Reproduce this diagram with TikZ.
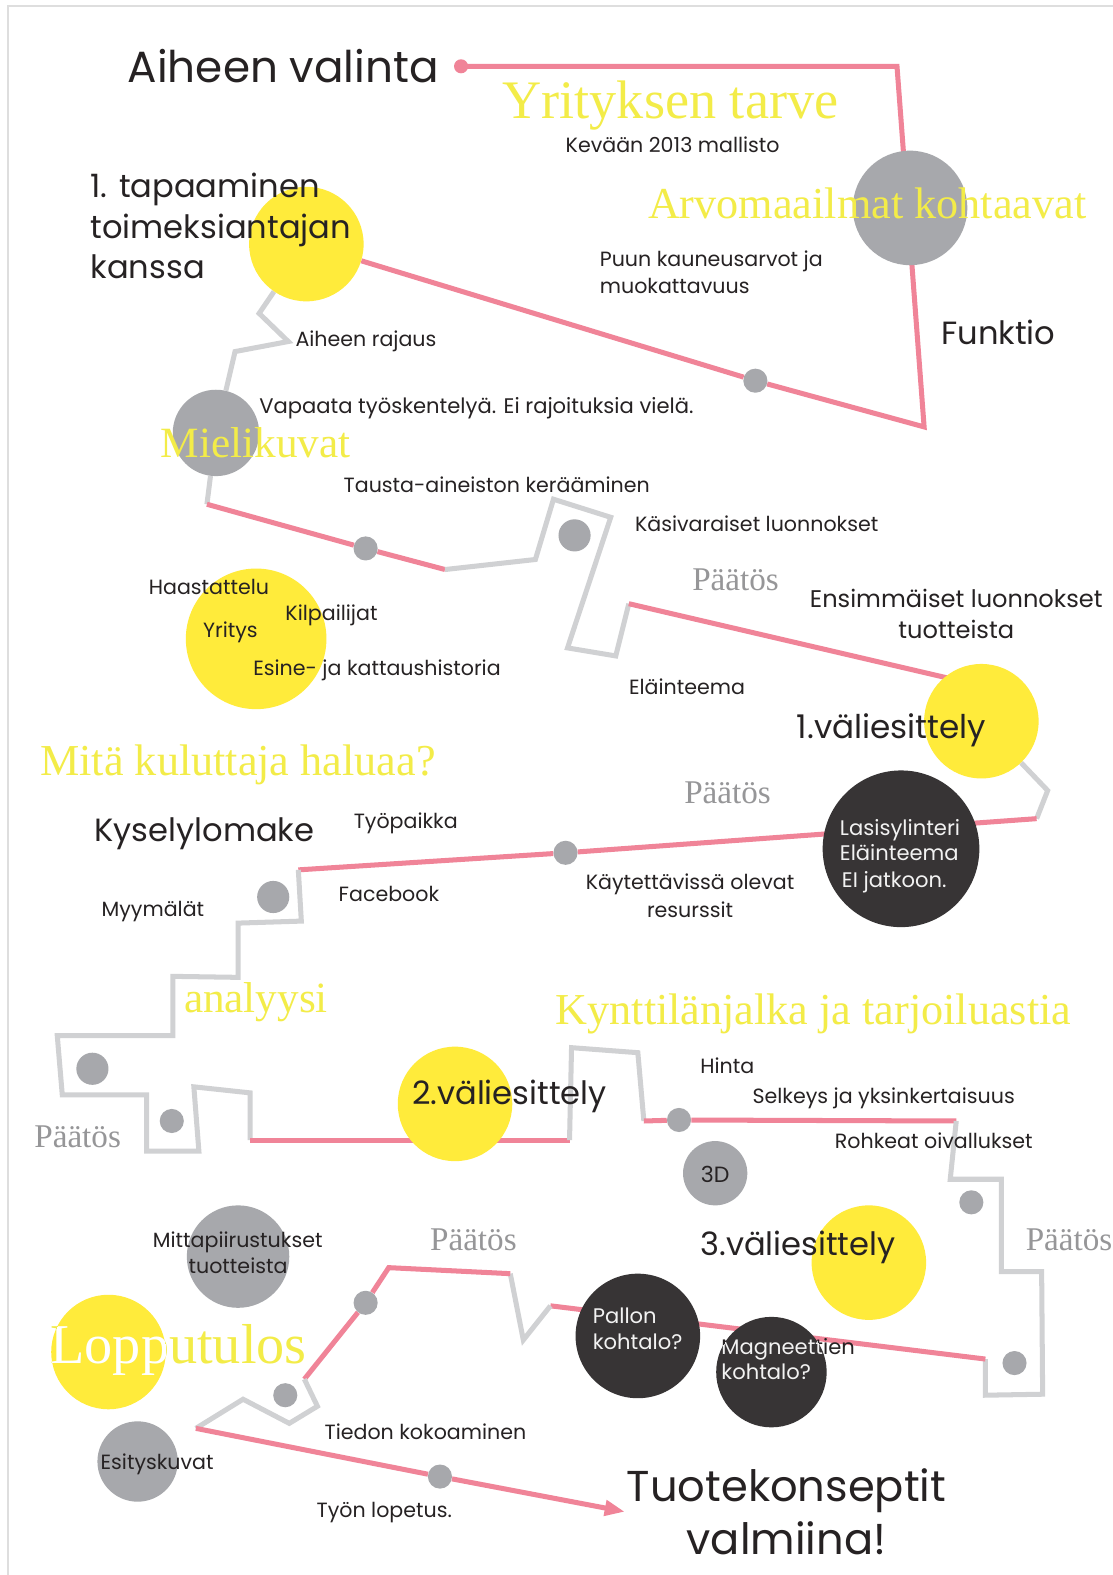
\documentclass[tikz,border=0pt]{standalone}
\usepackage{fontspec}
\setmainfont{Liberation Serif}
\newfontfamily\popf{Poppins}
\newfontfamily\serf{Liberation Serif}
\usetikzlibrary{arrows.meta}
\pgfdeclarelayer{bglayer}
\pgfsetlayers{bglayer,main}
\definecolor{pinkl}{RGB}{240,132,152}
\definecolor{yel}{RGB}{255,235,59}
\definecolor{yeltxt}{RGB}{243,236,72}
\definecolor{greyc}{RGB}{167,168,172}
\definecolor{greyl}{RGB}{208,209,211}
\definecolor{blk}{RGB}{55,52,53}
\definecolor{txt}{RGB}{38,34,35}
\definecolor{paatos}{RGB}{150,150,152}
\definecolor{framec}{RGB}{222,222,222}
\definecolor{wtxt}{RGB}{242,242,242}
\begin{document}
\begin{tikzpicture}[x=1pt,y=-1pt,
  pinkline/.style={draw=pinkl,line width=5pt},
  greyline/.style={draw=greyl,line width=5pt},
  disc/.style={circle,inner sep=0pt,minimum size=#1,draw=none},
  ycirc/.style={disc=#1,fill=yel},
  gcirc/.style={disc=#1,fill=greyc},
  bcirc/.style={disc=#1,fill=blk},
  dotg/.style={disc=#1,fill=greyc},
  lbl/.style={inner sep=0pt,anchor=base west,text=txt,font=\popf\fontsize{#1}{#1}\selectfont},
  clbl/.style={lbl=#1,anchor=base},
  wlbl/.style={lbl=#1,text=wtxt},
  hd/.style={inner sep=0pt,anchor=base west,text=yeltxt,font=\serf\fontsize{#1}{#1}\selectfont},
  pts/.style={hd=33,text=paatos}
]
\useasboundingbox (0,0) rectangle (1108,1568);

% ---------- circles ----------
\node[ycirc=114pt] (tap) at (305,243) {};
\node[gcirc=114pt] (arvo) at (906,207) {};
\node[gcirc=86pt] (miel) at (215,431) {};
\node[ycirc=140pt] (haas) at (255,636) {};
\node[ycirc=114pt] (val1) at (977,718) {};
\node[bcirc=156pt] (lasi) at (897,845) {};
\node[ycirc=114pt] (val2) at (453,1099) {};
\node[gcirc=64pt] (td) at (712,1168) {};
\node[ycirc=114pt] (val3) at (865,1257) {};
\node[gcirc=102pt] (mitta) at (237,1251) {};
\node[ycirc=114pt] (lopp) at (108,1346) {};
\node[bcirc=124pt] (pal) at (635,1330) {};
\node[bcirc=110pt] (mag) at (768,1366) {};
\node[gcirc=80pt] (esit) at (137,1455) {};

% ---------- small dots ----------
\node[disc=14pt,fill=pinkl] (start) at (459,66) {};
\node[dotg=24pt] (d1) at (752,379) {};
\node[dotg=24pt] (d2) at (364,546) {};
\node[dotg=32pt] (dloop) at (572,533) {};
\node[dotg=24pt] (d3) at (563,849) {};
\node[dotg=32pt] (dmyy) at (272,893) {};
\node[dotg=32pt] (d4) at (92,1064) {};
\node[dotg=24pt] (d5) at (171,1116) {};
\node[dotg=24pt] (d6) at (676,1115) {};
\node[dotg=24pt] (d7) at (967,1197) {};
\node[dotg=24pt] (d8) at (1010,1357) {};
\node[dotg=24pt] (d9) at (364,1297) {};
\node[dotg=24pt] (d10) at (284,1389) {};
\node[dotg=24pt] (d11) at (438,1470) {};

% ---------- path corners ----------
\coordinate (a1) at (893,66);
\coordinate (a2) at (920,425);
\coordinate (b1) at (258,312);
\coordinate (b2) at (287,340);
\coordinate (b3) at (234,350);
\coordinate (b5) at (206,502);
\coordinate (b6) at (443,567);
\coordinate (b7) at (533,557);
\coordinate (b8) at (551,497);
\coordinate (b9) at (608,515);
\coordinate (b10) at (565,645);
\coordinate (b11) at (613,653);
\coordinate (b12) at (626,601);
\coordinate (vend) at (965,680);
\coordinate (c1) at (1043,787);
\coordinate (c2) at (1032,815);
\coordinate (c3) at (297,866);
\coordinate (c4) at (300,917);
\coordinate (c5) at (237,919);
\coordinate (c6) at (237,973);
\coordinate (c7) at (172,972);
\coordinate (c8) at (172,1031);
\coordinate (c9) at (57,1031);
\coordinate (c10) at (62,1090);
\coordinate (c11) at (146,1090);
\coordinate (c12) at (146,1146);
\coordinate (c13) at (198,1146);
\coordinate (c14) at (193,1082);
\coordinate (c15) at (249,1088);
\coordinate (c16) at (249,1135);
\coordinate (c17) at (567,1135);
\coordinate (c18) at (569,1043);
\coordinate (c19) at (635,1048);
\coordinate (c20) at (641,1116);
\coordinate (c21) at (952,1116);
\coordinate (c22) at (946,1174);
\coordinate (c23) at (997,1174);
\coordinate (c24) at (997,1266);
\coordinate (c25) at (1037,1266);
\coordinate (c26) at (1038,1388);
\coordinate (c27) at (981,1389);
\coordinate (c28) at (981,1353);
\coordinate (c29) at (548,1300);
\coordinate (c30) at (521,1334);
\coordinate (c31) at (508,1268);
\coordinate (c32) at (387,1262);
\coordinate (c33) at (303,1373);
\coordinate (c34) at (316,1400);
\coordinate (c35) at (288,1417);
\coordinate (c36) at (242,1393);
\coordinate (c37) at (195,1422);
\coordinate (arrowend) at (622,1505);

% ---------- background and connectors (behind) ----------
\begin{pgfonlayer}{bglayer}
\fill[white] (0,0) rectangle (1108,1568);
\draw[framec,line width=1.5pt] (8,1568) -- (8,6) -- (1108,6);
\draw[pinkline] (start.center) -- (a1) -- (a2) -- (d1) -- (tap);
\draw[greyline] (tap) -- (b1) -- (b2) -- (b3) -- (miel);
\draw[greyline] (miel) -- (b5);
\draw[pinkline] (b5) -- (d2) -- (b6);
\draw[greyline] (b6) -- (b7) -- (b8) -- (b9) -- (b10) -- (b11) -- (b12);
\draw[pinkline] (b12) -- (vend);
\draw[greyline] (val1) -- (c1) -- (c2);
\draw[pinkline] (c2) -- (d3) -- (c3);
\draw[greyline] (c3) -- (c4) -- (c5) -- (c6) -- (c7) -- (c8) -- (c9) -- (c10) -- (c11) -- (c12) -- (c13) -- (c14) -- (c15) -- (c16);
\draw[pinkline] (c16) -- (c17);
\draw[greyline] (c17) -- (c18) -- (c19) -- (c20);
\draw[pinkline] (c20) -- (d6) -- (c21);
\draw[greyline] (c21) -- (c22) -- (c23) -- (c24) -- (c25) -- (c26) -- (c27) -- (c28);
\draw[pinkline] (c28) -- (c29);
\draw[greyline] (c29) -- (c30) -- (c31);
\draw[pinkline] (c31) -- (c32) -- (d9) -- (c33);
\draw[greyline] (c33) -- (c34) -- (c35) -- (c36) -- (c37);
\draw[pinkline,-{Triangle[length=20pt,width=15pt]}] (c37) -- (d11) -- (arrowend);
\end{pgfonlayer}

% ---------- yellow serif headings ----------
\node[hd=54] (h1) at (500,118) {Yrityksen tarve};
\node[hd=44] (h2) at (645,218) {Arvomaailmat kohtaavat};
\node[hd=43] (h3) at (160,455) {Mielikuvat};
\node[hd=44] (h4) at (40,772) {Mitä kuluttaja haluaa?};
\node[hd=43] (h5) at (183,1008) {analyysi};
\node[hd=44] (h6) at (553,1020) {Kynttilänjalka ja tarjoiluastia};
\node[hd=56] (h7) at (50,1357) {Lopputulos};
\begin{scope}
\clip (lopp.center) circle [radius=57pt];
\node[hd=56,text=white] (h7w) at (50,1357) {Lopputulos};
\end{scope}

% ---------- Päätös ----------
\node[pts] (p1) at (689,588) {Päätös};
\node[pts] (p2) at (681,800) {Päätös};
\node[pts] (p3) at (34,1142) {Päätös};
\node[pts] (p4) at (428,1245) {Päätös};
\node[pts] (p5) at (1021,1245) {Päätös};

% ---------- large sans ----------
\node[lbl=43.5] (t1) at (127,82) {Aiheen valinta};
\node[lbl=32] (t2a) at (90,197) {1. tapaaminen};
\node[lbl=32] (t2b) at (90,237) {toimeksiantajan};
\node[lbl=32] (t2c) at (90,277) {kanssa};
\node[lbl=32] (t3) at (937,343) {Funktio};
\node[lbl=32.5] (t4) at (793,735) {1.väliesittely};
\node[lbl=32] (t5) at (94,838) {Kyselylomake};
\node[lbl=32] (t6) at (410,1100) {2.väliesittely};
\node[lbl=32] (t7) at (697,1250) {3.väliesittely};
\node[clbl=43] (t8a) at (783,1495) {Tuotekonseptit};
\node[clbl=43] (t8b) at (783,1548) {valmiina!};
\node[clbl=24] (t9a) at (952,605) {Ensimmäiset luonnokset};
\node[clbl=24] (t9b) at (952,636) {tuotteista};

% ---------- small sans ----------
\node[lbl=20.5] (s1) at (563,152) {Kevään 2013 mallisto};
\node[lbl=20.5] (s2a) at (597,265) {Puun kauneusarvot ja};
\node[lbl=20.5] (s2b) at (597,292) {muokattavuus};
\node[lbl=20.5] (s3) at (294,345) {Aiheen rajaus};
\node[lbl=21] (s4) at (258,412) {Vapaata työskentelyä. Ei rajoituksia vielä.};
\node[lbl=20.5] (s5) at (342,490) {Tausta-aineiston kerääminen};
\node[lbl=20.5] (s6) at (632,529) {Käsivaraiset luonnokset};
\node[lbl=20.5] (s7) at (148,592) {Haastattelu};
\node[lbl=20.5] (s8) at (284,618) {Kilpailijat};
\node[lbl=20.5] (s9) at (202,635) {Yritys};
\node[lbl=20.5] (s10) at (252,672) {Esine- ja kattaushistoria};
\node[lbl=20.5] (s11) at (626,691) {Eläinteema};
\node[lbl=20.5] (s12) at (352,825) {Työpaikka};
\node[lbl=20.5] (s13) at (337,897) {Facebook};
\node[clbl=20.5] (s14a) at (687,886) {Käytettävissä olevat};
\node[clbl=20.5] (s14b) at (687,913) {resurssit};
\node[lbl=20.5] (s15) at (101,912) {Myymälät};
\node[lbl=20.5] (s16) at (697,1069) {Hinta};
\node[lbl=20.5] (s17) at (749,1099) {Selkeys ja yksinkertaisuus};
\node[lbl=20.5] (s18) at (831,1143) {Rohkeat oivallukset};
\node[clbl=22] (s19) at (712,1177) {3D};
\node[lbl=20.5] (s20a) at (152,1242) {Mittapiirustukset};
\node[clbl=20.5] (s20b) at (237,1268) {tuotteista};
\node[lbl=20.5] (s21) at (323,1433) {Tiedon kokoaminen};
\node[lbl=20.5] (s22) at (100,1463) {Esityskuvat};
\node[lbl=20.5] (s23) at (315,1511) {Työn lopetus.};

% ---------- text in black circles ----------
\node[wlbl=21] (w1) at (836,832) {Lasisylinteri};
\node[wlbl=21] (w2) at (836,857) {Eläinteema};
\node[wlbl=21] (w3) at (838,884) {EI jatkoon.};
\node[wlbl=21] (w4) at (590,1318) {Pallon};
\node[wlbl=21] (w5) at (590,1343) {kohtalo?};
\node[lbl=21] (w6) at (718,1348) {Magneettien};
\begin{scope}
\clip (mag.center) circle [radius=55pt];
\node[wlbl=21] (w6w) at (718,1348) {Magneettien};
\end{scope}
\node[wlbl=21] (w7) at (718,1373) {kohtalo?};
\end{tikzpicture}
\end{document}
